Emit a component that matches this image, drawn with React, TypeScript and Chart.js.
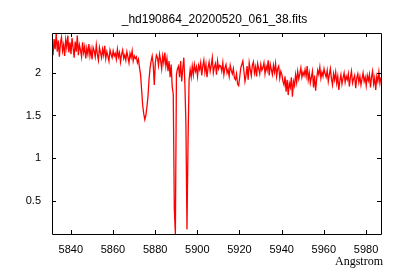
import React, { useEffect, useRef } from "react";
import { Chart, registerables } from "chart.js";

Chart.register(...registerables);

const titleText = "_hd190864_20200520_061_38.fits";
const xAxisLabel = "Angstrom";

const waveStart = 5831.1;
const waveStep = 0.5;

const flux: number[] = [
  // 5831.1 - 5840.6
  2.32, 2.21, 2.40, 2.28, 2.47, 2.25, 2.38, 2.19, 2.35, 2.42, 2.26, 2.33, 2.20, 2.39, 2.30, 2.44, 2.24, 2.36, 2.22, 2.41,
  // 5841.1 - 5850.6
  2.30, 2.18, 2.37, 2.25, 2.44, 2.21, 2.33, 2.27, 2.19, 2.36, 2.24, 2.31, 2.17, 2.29, 2.22, 2.34, 2.20, 2.28, 2.16, 2.30,
  // 5851.1 - 5860.6
  2.26, 2.19, 2.33, 2.22, 2.15, 2.30, 2.24, 2.18, 2.28, 2.21, 2.32, 2.17, 2.25, 2.20, 2.14, 2.27, 2.22, 2.18, 2.26, 2.20,
  // 5861.1 - 5870.6
  2.23, 2.16, 2.28, 2.19, 2.24, 2.13, 2.22, 2.27, 2.17, 2.21, 2.15, 2.25, 2.19, 2.12, 2.23, 2.18, 2.26, 2.14, 2.20, 2.17,
  // 5871.1 - 5880.6 (He I)
  2.19, 2.12, 2.16, 2.06, 1.98, 1.80, 1.62, 1.52, 1.45, 1.50, 1.60, 1.72, 1.92, 2.06, 2.14, 2.20, 2.10, 1.86, 2.12, 2.21,
  // 5881.1 - 5890.6 (Na D2)
  2.18, 2.09, 2.22, 2.15, 2.05, 2.20, 2.12, 2.24, 2.08, 2.17, 2.02, 2.14, 1.95, 2.10, 1.84, 1.75, 0.40, 0.106, 1.98, 2.05,
  // 5891.1 - 5900.6 (Na D1)
  2.08, 1.95, 2.14, 1.90, 2.05, 2.18, 1.88, 1.40, 0.16, 1.18, 1.92, 2.04, 1.95, 2.08, 1.98, 2.10, 2.02, 2.07, 1.96, 2.09,
  // 5901.1 - 5910.6
  2.04, 2.12, 1.97, 2.08, 2.15, 2.01, 2.10, 1.95, 2.06, 2.13, 2.02, 2.09, 2.18, 2.00, 2.07, 2.11, 1.98, 2.14, 2.05, 2.09,
  // 5911.1 - 5920.6
  2.08, 2.02, 2.12, 1.98, 2.06, 2.10, 2.00, 2.04, 1.96, 2.09, 2.03, 1.99, 2.05, 1.94, 1.92, 1.99, 1.87, 1.85, 1.95, 2.06,
  // 5921.1 - 5930.6
  2.10, 2.14, 2.02, 1.90, 1.97, 2.08, 1.92, 2.12, 2.04, 1.97, 2.09, 2.13, 2.00, 2.07, 1.96, 2.11, 2.05, 1.99, 2.10, 2.03,
  // 5931.1 - 5940.6
  2.06, 2.12, 1.99, 2.08, 2.03, 2.15, 1.97, 2.10, 2.04, 1.98, 2.09, 2.01, 2.11, 1.96, 2.05, 2.08, 1.94, 2.02, 1.98, 1.90,
  // 5941.1 - 5950.6
  1.86, 1.96, 1.78, 1.92, 1.74, 1.88, 1.83, 1.95, 1.72, 1.90, 1.85, 1.98, 1.89, 2.02, 1.93, 1.99, 2.06, 1.95, 2.01, 1.97,
  // 5951.1 - 5960.6
  2.04, 1.96, 2.08, 1.92, 2.00, 1.88, 1.95, 2.02, 1.83, 1.97, 1.79, 1.93, 2.03, 1.98, 2.07, 1.94, 2.01, 1.96, 2.05, 1.99,
  // 5961.1 - 5970.6
  1.95, 2.03, 1.90, 1.98, 2.05, 1.93, 1.86, 1.99, 1.92, 2.01, 1.88, 1.96, 1.80, 1.91, 1.98, 1.87, 1.94, 2.00, 1.89, 1.96,
  // 5971.1 - 5980.6
  1.92, 1.99, 1.84, 1.95, 2.02, 1.88, 1.93, 1.97, 1.82, 1.94, 1.99, 1.89, 1.96, 1.86, 1.93, 2.00, 1.90, 1.95, 1.85, 1.97,
  // 5981.1 - 5987.1
  1.91, 1.98, 1.83, 1.95, 2.02, 1.87, 1.94, 1.80, 1.96, 1.90, 2.01, 1.88, 1.95,
];

const xTickStep = 20;
const yTickStep = 0.5;

export default function App() {
  const ref = useRef<HTMLCanvasElement | null>(null);

  useEffect(() => {
    if (!ref.current) return;
    const points = flux.map((v, i) => ({ x: waveStart + i * waveStep, y: v }));
    const xMin = points[0].x;
    const xMax = points[points.length - 1].x;
    const yMin = Math.min(...flux);
    const yMax = Math.max(...flux);

    const framePlugin = {
      id: "frame",
      afterDatasetsDraw(chart: any) {
        const { ctx, chartArea } = chart;
        const { left, right, top, bottom } = chartArea;
        const xs = chart.scales.x;
        const ys = chart.scales.y;
        ctx.save();
        ctx.strokeStyle = "#000";
        ctx.lineWidth = 1;
        ctx.beginPath();
        ctx.rect(Math.round(left) + 0.5, Math.round(top) + 0.5, Math.round(right - left), Math.round(bottom - top));
        ctx.stroke();
        const tl = 4;
        ctx.beginPath();
        xs.ticks.forEach((t: any) => {
          const px = Math.round(xs.getPixelForValue(t.value)) + 0.5;
          ctx.moveTo(px, bottom);
          ctx.lineTo(px, bottom - tl);
          ctx.moveTo(px, top);
          ctx.lineTo(px, top + tl);
        });
        ys.ticks.forEach((t: any) => {
          const py = Math.round(ys.getPixelForValue(t.value)) + 0.5;
          ctx.moveTo(left, py);
          ctx.lineTo(left + tl, py);
          ctx.moveTo(right, py);
          ctx.lineTo(right - tl, py);
        });
        ctx.stroke();
        ctx.fillStyle = "#000";
        ctx.font = "12px 'Liberation Sans'";
        ctx.textAlign = "center";
        ctx.textBaseline = "alphabetic";
        ctx.fillText(titleText, (left + right) / 2 - 2, 22.5);
        ctx.font = "12px 'Liberation Serif'";
        ctx.textAlign = "right";
        ctx.fillText(xAxisLabel, 383, 265);
        ctx.restore();
      },
    };

    const chart = new Chart(ref.current, {
      type: "line",
      data: {
        datasets: [
          {
            data: points,
            borderColor: "#ff0000",
            borderWidth: 1.3,
            pointRadius: 0,
            fill: false,
            tension: 0,
          },
        ],
      },
      options: {
        animation: false,
        responsive: false,
        devicePixelRatio: 1,
        layout: { padding: { left: 0, right: 19, top: 33, bottom: 0 } },
        plugins: { legend: { display: false }, title: { display: false }, tooltip: { enabled: false } },
        scales: {
          x: {
            type: "linear",
            min: xMin,
            max: xMax,
            grid: { display: false, drawTicks: false },
            border: { display: false },
            afterFit: (s: any) => {
              s.height = 46;
            },
            ticks: {
              stepSize: xTickStep,
              includeBounds: false,
              padding: 9,
              color: "#000",
              font: { family: "'Liberation Sans'", size: 11 },
              maxRotation: 0,
              autoSkip: false,
              callback: (v: any) => String(v),
            },
          },
          y: {
            type: "linear",
            min: yMin,
            max: yMax,
            grid: { display: false, drawTicks: false },
            border: { display: false },
            afterFit: (s: any) => {
              s.width = 52;
            },
            ticks: {
              stepSize: yTickStep,
              includeBounds: false,
              padding: 11,
              color: "#000",
              font: { family: "'Liberation Sans'", size: 11 },
              autoSkip: false,
              callback: (v: any) => String(v),
            },
          },
        },
      },
      plugins: [framePlugin],
    });
    return () => chart.destroy();
  }, []);

  return (
    <div style={{ position: "fixed", left: 0, top: 0, width: 400, height: 280, background: "#fff" }}>
      <canvas ref={ref} width={400} height={280} style={{ width: 400, height: 280 }} />
    </div>
  );
}
